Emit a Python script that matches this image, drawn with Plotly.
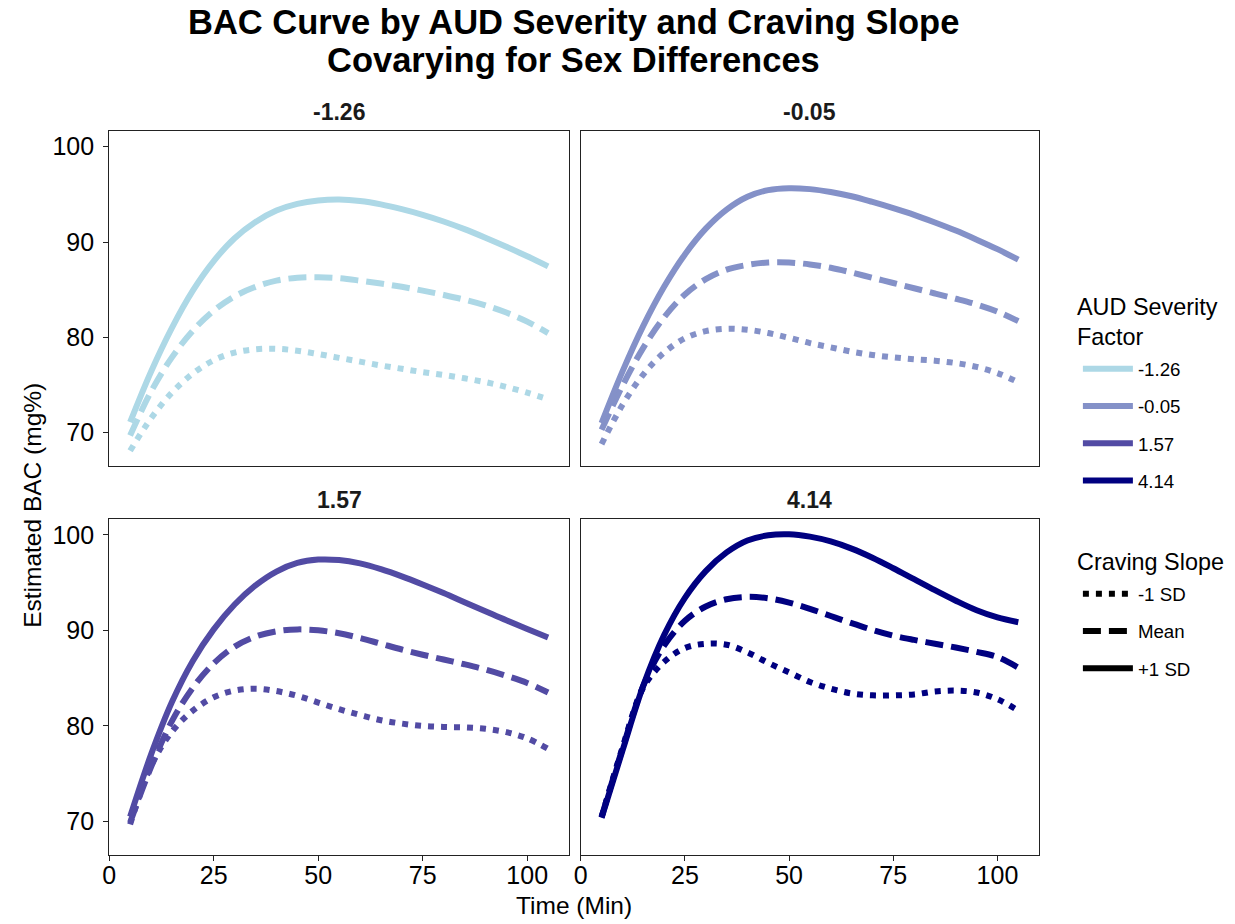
import plotly.graph_objects as go

# ---- data ----
time_min = [5, 10, 15, 20, 25, 30, 35, 40, 45, 50, 55, 60, 65, 70, 75, 80, 85, 90, 95, 100, 105]

severity_levels = ["-1.26", "-0.05", "1.57", "4.14"]
severity_colors = ["#ADD8E6", "#8491C8", "#524BA4", "#000080"]
craving_levels = ["-1 SD", "Mean", "+1 SD"]

# AUD severity -1.26
sev1_low = [68.1, 71.5, 74.2, 76.2, 77.6, 78.4, 78.75, 78.8, 78.6, 78.25, 77.85, 77.45, 77.05, 76.7, 76.35, 76.05, 75.7, 75.3, 74.8, 74.2, 73.5]
sev1_mean = [69.7, 74.3, 77.9, 80.7, 82.8, 84.3, 85.3, 85.95, 86.25, 86.3, 86.2, 85.95, 85.65, 85.3, 84.9, 84.45, 83.95, 83.35, 82.6, 81.65, 80.45]
sev1_high = [71.1, 76.4, 81.0, 84.9, 88.0, 90.4, 92.1, 93.3, 94.0, 94.35, 94.45, 94.3, 93.95, 93.45, 92.85, 92.15, 91.35, 90.45, 89.5, 88.5, 87.45]

# AUD severity -0.05
sev2_low = [68.8, 72.9, 76.1, 78.4, 79.9, 80.65, 80.9, 80.8, 80.45, 79.95, 79.4, 78.95, 78.5, 78.15, 77.9, 77.7, 77.55, 77.3, 76.9, 76.25, 75.3]
sev2_mean = [70.3, 74.9, 78.9, 82.1, 84.5, 86.1, 87.1, 87.6, 87.85, 87.85, 87.65, 87.3, 86.8, 86.25, 85.7, 85.15, 84.6, 84.05, 83.45, 82.7, 81.7]
sev2_high = [71.0, 76.4, 81.2, 85.3, 88.7, 91.4, 93.4, 94.75, 95.45, 95.65, 95.55, 95.25, 94.8, 94.2, 93.55, 92.85, 92.05, 91.2, 90.25, 89.25, 88.15]

# AUD severity 1.57
sev3_low = [69.7, 75.8, 79.4, 81.6, 83.0, 83.7, 83.9, 83.65, 83.15, 82.45, 81.75, 81.15, 80.6, 80.25, 80.0, 79.9, 79.85, 79.7, 79.35, 78.7, 77.6]
sev3_mean = [69.9, 75.7, 80.5, 84.0, 86.55, 88.3, 89.35, 89.9, 90.1, 90.0, 89.7, 89.2, 88.6, 88.0, 87.45, 86.95, 86.45, 85.9, 85.25, 84.5, 83.5]
sev3_high = [70.5, 77.0, 82.5, 86.8, 90.1, 92.7, 94.7, 96.15, 97.05, 97.4, 97.35, 97.0, 96.4, 95.65, 94.8, 93.9, 92.95, 92.0, 91.05, 90.15, 89.25]

# AUD severity 4.14
sev4_low = [70.45, 77.7, 84.0, 86.7, 88.15, 88.6, 88.5, 87.7, 86.6, 85.6, 84.6, 83.9, 83.4, 83.2, 83.2, 83.3, 83.6, 83.7, 83.5, 82.8, 81.6]
sev4_mean = [70.5, 77.6, 84.2, 88.4, 91.0, 92.5, 93.25, 93.5, 93.35, 92.9, 92.25, 91.5, 90.75, 90.05, 89.45, 89.0, 88.6, 88.2, 87.75, 87.2, 86.1]
sev4_high = [70.4, 77.4, 84.2, 89.5, 93.4, 96.2, 98.15, 99.4, 99.95, 100.05, 99.8, 99.3, 98.55, 97.6, 96.5, 95.35, 94.2, 93.1, 92.1, 91.35, 90.85]

x_ticks = [0, 25, 50, 75, 100]
y_ticks = [70, 80, 90, 100]

panels = [
    (sev1_low, sev1_mean, sev1_high),
    (sev2_low, sev2_mean, sev2_high),
    (sev3_low, sev3_mean, sev3_high),
    (sev4_low, sev4_mean, sev4_high),
]

# ---- styles ----
W, H = 1235, 924
FONT = "Liberation Sans, Arial, sans-serif"
dash_styles = ["6px,7px", "18px,8px", "solid"]
LW = 6

# ggplot-like expanded ranges
all_y = [v for p in panels for s in p for v in s]
ymin, ymax = min(all_y), max(all_y)
ypad = 0.05 * (ymax - ymin)
y_range = [ymin - ypad, ymax + ypad]
xpad = 0.05 * (max(time_min) - min(time_min))
x_range = [min(time_min) - xpad, max(time_min) + xpad]

x_doms = [[102.8 / W, 565.2 / W], [577.0 / W, 1038.0 / W]]
y_doms = [[1 - 466 / H, 1 - 131 / H], [1 - 855 / H, 1 - 519 / H]]

fig = go.Figure()

for i, (series, sev, col) in enumerate(zip(panels, severity_levels, severity_colors)):
    ax = "" if i == 0 else str(i + 1)
    for vals, dash in zip(series, dash_styles):
        fig.add_trace(go.Scatter(
            x=time_min, y=vals, mode="lines",
            line=dict(color=col, width=LW, dash=dash, shape="spline", smoothing=1.0),
            xaxis="x" + ax, yaxis="y" + ax, showlegend=False, hoverinfo="skip",
        ))

# legend entries
for sev, col in zip(severity_levels, severity_colors):
    fig.add_trace(go.Scatter(
        x=[None], y=[None], mode="lines", name=sev,
        line=dict(color=col, width=LW), legend="legend", legendgroup="s" + sev,
    ))
for lev, dash in zip(craving_levels, dash_styles):
    fig.add_trace(go.Scatter(
        x=[None], y=[None], mode="lines", name=lev,
        line=dict(color="black", width=LW, dash=dash), legend="legend2", legendgroup="c" + lev,
    ))

axis_common = dict(
    showline=True, mirror=True, linecolor="#222222", linewidth=1.2,
    showgrid=False, zeroline=False,
    ticks="outside", ticklen=5, tickwidth=1.2, tickcolor="#222222",
    tickfont=dict(family=FONT, size=25, color="black"),
)

legend_common = dict(
    xanchor="left", yanchor="top",
    font=dict(family=FONT, size=18.7, color="black"),
    tracegroupgap=10, bgcolor="rgba(0,0,0,0)", itemwidth=50,
)

layout = dict(
    width=W, height=H,
    margin=dict(l=0, r=0, t=0, b=0),
    paper_bgcolor="white", plot_bgcolor="white",
    font=dict(family=FONT, color="black"),
    legend=dict(legend_common, x=1077 / W, y=1 - 350 / H),
    legend2=dict(legend_common, x=1077 / W, y=1 - 575 / H),
    showlegend=True,
)

for i in range(4):
    r, c = divmod(i, 2)
    ax = "" if i == 0 else str(i + 1)
    xa = dict(axis_common, domain=x_doms[c], range=x_range, anchor="y" + ax,
              tickvals=x_ticks, ticklabelstandoff=-7)
    ya = dict(axis_common, domain=y_doms[r], range=y_range, anchor="x" + ax,
              tickvals=y_ticks, ticklabelstandoff=4)
    if r == 0:
        xa.update(ticks="", showticklabels=False)
    if c == 1:
        ya.update(ticks="", showticklabels=False)
    layout["xaxis" + ax] = xa
    layout["yaxis" + ax] = ya

annotations = []
title_lines = ["BAC Curve by AUD Severity and Craving Slope", "Covarying for Sex Differences"]
for line, yc in zip(title_lines, [22.5, 59.5]):
    annotations.append(dict(
        text="<b>" + line + "</b>", x=570 / W, y=1 - yc / H, xref="paper", yref="paper",
        xanchor="center", yanchor="middle", showarrow=False,
        font=dict(family=FONT, size=34.5, color="black"),
    ))
for i, sev in enumerate(severity_levels):
    r, c = divmod(i, 2)
    xc = (x_doms[c][0] + x_doms[c][1]) / 2
    yc = y_doms[r][1] + 19 / H
    annotations.append(dict(
        text="<b>" + sev + "</b>", x=xc, y=yc, xref="paper", yref="paper",
        xanchor="center", yanchor="middle", showarrow=False,
        font=dict(family=FONT, size=23, color="#1a1a1a"),
    ))
# legend titles
legend_titles = [("AUD Severity<br>Factor", 322), ("Craving Slope", 561.5)]
for txt, yc in legend_titles:
    annotations.append(dict(
        text=txt, x=1074 / W, y=1 - yc / H, xref="paper", yref="paper",
        xanchor="left", yanchor="middle", align="left", showarrow=False,
        font=dict(family=FONT, size=23.4, color="black"),
    ))
annotations.append(dict(
    text="Time (Min)", x=570 / W, y=1 - 905 / H, xref="paper", yref="paper",
    xanchor="center", yanchor="middle", showarrow=False,
    font=dict(family=FONT, size=24.5, color="black"),
))
annotations.append(dict(
    text="Estimated BAC (mg%)", x=25 / W, y=1 - 505 / H, xref="paper", yref="paper",
    xanchor="center", yanchor="middle", showarrow=False, textangle=-90,
    font=dict(family=FONT, size=24.5, color="black"),
))
layout["annotations"] = annotations

fig.update_layout(**layout)
fig.write_html("out.html")
